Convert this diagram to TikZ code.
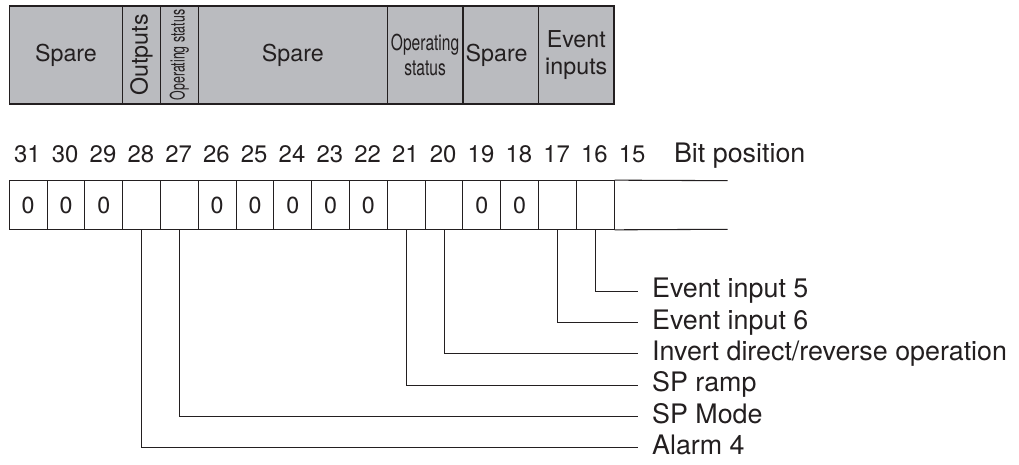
\documentclass[tikz,border=0pt]{standalone}
\usepackage{fontspec}
\setmainfont{TeX Gyre Heros}
\usepackage{graphicx}
\definecolor{fieldgray}{RGB}{186,187,191}
\definecolor{ink}{RGB}{35,31,32}

\begin{document}
\begin{tikzpicture}[
    field/.style={draw=ink, line width=1.2pt, fill=fieldgray, minimum height=2.598cm,
        inner sep=0pt, align=center, text=ink, font=\fontsize{17.5}{19.8}\selectfont},
    cell/.style={draw=ink, line width=0.8pt, minimum width=1cm, minimum height=1.286cm, inner sep=0pt},
    zero/.style={text=ink, inner sep=0pt, font=\fontsize{17.5}{20}\selectfont},
    bitno/.style={anchor=base, text=ink, inner sep=0pt, font=\fontsize{18}{20}\selectfont},
    lbl/.style={anchor=west, inner xsep=0.36cm, inner ysep=0pt, text height=14pt, text depth=3.8pt,
        text=ink, font=\fontsize{20.2}{22}\selectfont},
    lead/.style={draw=ink, line width=0.7pt}
]
    \useasboundingbox (-0.246,4.780) rectangle (26.712,-7.521);

    % Header fields
    \node[field, minimum width=3cm] (hspareA) at (1.5,3.323) {Spare};
    \node[field, minimum width=1cm] (houts) at (3.5,3.323) {\rotatebox{90}{Outputs}};
    \node[field, minimum width=1cm] (hstatA) at (4.5,3.323)
        {\rotatebox{90}{\fontsize{15}{17}\selectfont\scalebox{0.62}[1]{Operating status}}};
    \node[field, minimum width=5cm] (hspareB) at (7.5,3.323) {Spare};
    \node[field, minimum width=2cm, font=\fontsize{16.5}{18.4}\selectfont] (hstatB) at (11,3.323)
        {\scalebox{0.71}[1]{Operating}\\\scalebox{0.71}[1]{status}};
    \node[field, minimum width=2cm] (hspareC) at (13,3.323) {Spare\hspace{0.22cm}};
    \node[field, minimum width=2cm] (hevent) at (15,3.323) {Event\\inputs};

    % Bit numbers
    \foreach \b [count=\i from 0] in {31,30,...,15}
        \node[bitno] (n\b) at (\i+0.48,0.478) {\b};
    \node[bitno, anchor=base west, font=\fontsize{20.2}{22}\selectfont] (bitpos) at (17.58,0.478) {Bit position};

    % Register cells
    \foreach \b [count=\i from 0] in {31,30,...,16}
        \node[cell] (b\b) at (\i+0.5,-0.643) {};
    \foreach \b in {31,30,29,26,25,24,23,22,19,18}
        \node[zero] (z\b) at (b\b) {0};
    \coordinate (topend) at (19,0);
    \coordinate (botend) at (19,-1.286);
    \draw[ink, line width=0.8pt] (b16.north east) -- (topend);
    \draw[ink, line width=0.8pt] (b16.south east) -- (botend);

    % Bit meanings
    \node[lbl] (ev5) at (16.64,-2.918) {Event input 5};
    \node[lbl] (ev6) at (16.64,-3.747) {Event input 6};
    \node[lbl] (invert) at (16.64,-4.576) {Invert direct/reverse operation};
    \node[lbl] (ramp) at (16.64,-5.405) {SP ramp};
    \node[lbl] (spmode) at (16.64,-6.234) {SP Mode};
    \node[lbl] (alarm) at (16.64,-7.063) {Alarm 4};

    \draw[lead] (b16.south) |- (ev5.west);
    \draw[lead] (b17.south) |- (ev6.west);
    \draw[lead] (b20.south) |- (invert.west);
    \draw[lead] (b21.south) |- (ramp.west);
    \draw[lead] (b27.south) |- (spmode.west);
    \draw[lead] (b28.south) |- (alarm.west);
\end{tikzpicture}
\end{document}
